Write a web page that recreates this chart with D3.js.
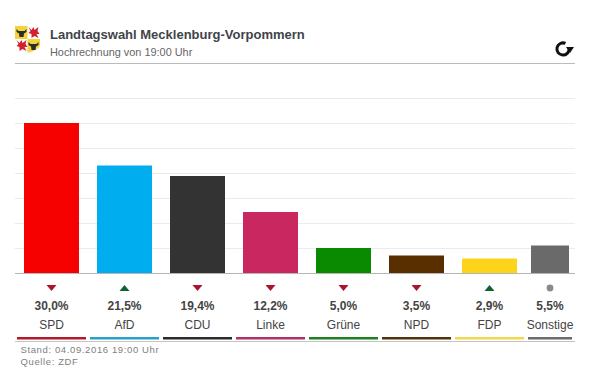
<!DOCTYPE html>
<html><head><meta charset="utf-8">
<script src="https://cdn.jsdelivr.net/npm/d3@7/dist/d3.min.js"></script>
<style>html,body{margin:0;padding:0;background:#fff}svg{display:block}text{font-family:"Liberation Sans",Arial,sans-serif}</style>
</head><body><svg id="c" width="611" height="375"></svg>
<script>
const titleText = "Landtagswahl Mecklenburg-Vorpommern";
const subtitleText = "Hochrechnung von 19:00 Uhr";
const footerLines = ["Stand: 04.09.2016 19:00 Uhr", "Quelle: ZDF"];
const parties = ["SPD","AfD","CDU","Linke","Grüne","NPD","FDP","Sonstige"];
const shares = [30.0,21.5,19.4,12.2,5.0,3.5,2.9,5.5];
const barColors = ["#f70000","#00adef","#333333","#c9275f","#0a8a00","#5a2f00","#fdd31c","#6a6a6a"];
const lineColors = ["#b2192a","#2a9fca","#2b2b2b","#ad3368","#1f8020","#54300e","#f2d84e","#6b6b6b"];
const trends = ["down","up","down","down","down","down","up","none"];
const gridTicks = [5,10,15,20,25,30,35];

const svg = d3.select("#c");
const y = d3.scaleLinear().domain([0,35]).range([273,98]);
const slot = d3.scaleLinear().domain([0,7]).range([15.5,526.5]);
const right = 574.5;
const bandL = i => slot(i);
const bandR = i => i < 7 ? slot(i+1) : right;
const padL = i => i < 7 ? 8.5 : 4.5;
const barW = i => i < 7 ? 55 : 38;
const cx = i => bandL(i)+padL(i)+barW(i)/2;

// header
svg.append("text").attr("x",50).attr("y",39).attr("font-size",13).attr("font-weight","bold").attr("fill","#3f4448").text(titleText);
svg.append("text").attr("x",50).attr("y",56).attr("font-size",10.9).attr("fill","#666").text(subtitleText);
svg.append("line").attr("x1",15).attr("x2",575).attr("y1",63.5).attr("y2",63.5).attr("stroke","#bbb");

// crest
const crest = svg.append("g").attr("transform","translate(15,26)");
crest.append("path").attr("d","M0,0H12.5V13H0Z").attr("fill","#f2d43a");
crest.append("path").attr("d","M12.5,13H25V19Q24,24 14,26.5H12.5Z").attr("fill","#f2d43a");
const bull = "M-5,-3L-3,-1H3L5,-3L5,0L2.5,1.5L2,5H-2L-2.5,1.5L-5,0Z";
crest.append("path").attr("d",bull).attr("transform","translate(6.5,6)").attr("fill","#2c2c2c");
crest.append("path").attr("d",bull).attr("transform","translate(18.5,19)").attr("fill","#2c2c2c");
const griffin = "M-5,-5L-2,-2L0,-5L1,-2L5,-5L4,-1L6,2L3,2L5,6L1,4L-2,6L-2,2L-5,1L-3,-1Z";
crest.append("path").attr("d",griffin).attr("transform","translate(18.5,6)").attr("fill","#d3202f");
crest.append("path").attr("d",griffin).attr("transform","translate(6.5,19)").attr("fill","#d3202f");

// refresh icon
const arc = d3.arc()({innerRadius:4.6,outerRadius:7.6,startAngle:1.5,endAngle:6.7});
svg.append("path").attr("transform","translate(563,49)").attr("d",arc).attr("fill","#111");
svg.append("path").attr("transform","translate(563,49)").attr("d","M3,-2H11L7,4Z").attr("fill","#111");

// grid
svg.selectAll("line.g").data(gridTicks).join("line").attr("class","g")
  .attr("x1",15).attr("x2",575).attr("y1",d=>y(d)+0.5).attr("y2",d=>y(d)+0.5).attr("stroke","#ebebeb");

// bars
svg.selectAll("rect.b").data(shares).join("rect").attr("class","b")
  .attr("x",(d,i)=>bandL(i)+padL(i)).attr("width",(d,i)=>barW(i))
  .attr("y",d=>y(d)).attr("height",d=>y(0)-y(d)).attr("fill",(d,i)=>barColors[i]);

// baseline
svg.append("line").attr("x1",15).attr("x2",575).attr("y1",273.5).attr("y2",273.5).attr("stroke","#b5b5b5");

// trend markers
trends.forEach((t,i)=>{
  const x=cx(i);
  if(t==="down") svg.append("path").attr("d",`M${x-5},285H${x+5}L${x},291Z`).attr("fill","#a8162e");
  if(t==="up") svg.append("path").attr("d",`M${x-5},291H${x+5}L${x},285Z`).attr("fill","#0f6132");
  if(t==="none") svg.append("circle").attr("cx",x).attr("cy",288).attr("r",3.4).attr("fill","#8a8a8a");
});

// values and labels
const fmt = v => v.toFixed(1).replace(".",",")+"%";
svg.selectAll("text.v").data(shares).join("text").attr("class","v")
  .attr("x",(d,i)=>cx(i)).attr("y",310).attr("text-anchor","middle").attr("font-size",12).attr("font-weight","bold").attr("fill","#444").text(fmt);
svg.selectAll("text.p").data(parties).join("text").attr("class","p")
  .attr("x",(d,i)=>cx(i)).attr("y",329).attr("text-anchor","middle").attr("font-size",12).attr("fill","#444").text(d=>d);

// colored underlines
svg.selectAll("rect.u").data(parties).join("rect").attr("class","u")
  .attr("x",(d,i)=>bandL(i)+1.5).attr("width",(d,i)=>bandR(i)-bandL(i)-4)
  .attr("y",337).attr("height",2.5).attr("fill",(d,i)=>lineColors[i]);
svg.append("line").attr("x1",15).attr("x2",575).attr("y1",341.5).attr("y2",341.5).attr("stroke","#c4c4c4");

// footer
svg.selectAll("text.f").data(footerLines).join("text").attr("class","f")
  .attr("x",20.5).attr("y",(d,i)=>353+i*12).attr("font-size",9.5).attr("letter-spacing",0.62).attr("fill","#808080").text(d=>d);
</script></body></html>
